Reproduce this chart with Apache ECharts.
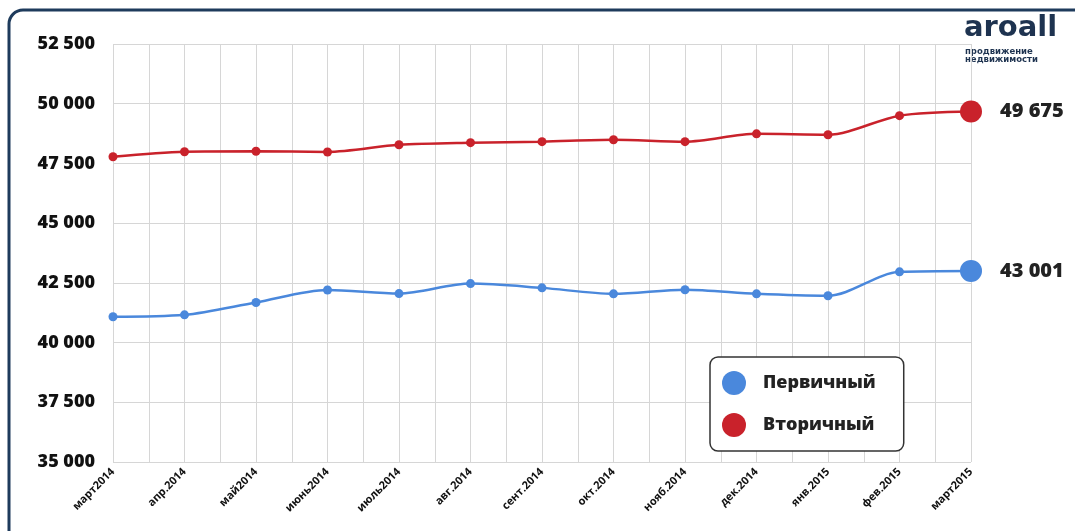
<!DOCTYPE html>
<html>
<head>
<meta charset="utf-8">
<script src="https://cdn.jsdelivr.net/npm/echarts@6/dist/echarts.min.js"></script>
<style>
html, body { margin: 0; padding: 0; background: #fff; }
#chart { width: 1075px; height: 531px; }
</style>
</head>
<body>
<div id="chart"></div>
<script>
var months = ["март2014", "апр.2014", "май2014", "июнь2014", "июль2014", "авг.2014", "сент.2014",
	"окт.2014", "нояб.2014", "дек.2014", "янв.2015", "фев.2015", "март2015"];
var primary = [41080, 41160, 41680, 42200, 42050, 42470, 42290, 42040, 42210, 42040, 41960, 42960, 43001];
var secondary = [47780, 47990, 48010, 47980, 48280, 48370, 48410, 48490, 48410, 48740, 48700, 49500, 49675];
var seriesNames = ["Первичный", "Вторичный"];
var seriesColors = ["#4a88dc", "#c9222b"];

function fmt(v) {
	return String(v).replace(/\B(?=(\d{3})+(?!\d))/g, " ");
}

function buildData(values) {
	return values.map(function(v, i) {
		if (i == values.length - 1) {
			return {
				value: [i, v],
				symbolSize: 22,
				label: {
					show: true,
					position: "right",
					distance: 18,
					formatter: function(p) { return fmt(p.value[1]); },
					fontFamily: "Open Sans",
					fontWeight: 800,
					fontSize: 20,
					color: "#222"
				}
			};
		}
		return { value: [i, v] };
	});
}

var chart = echarts.init(document.getElementById("chart"));
chart.setOption({
	animation: false,
	color: seriesColors,
	grid: { left: 113, right: 104, top: 44, bottom: 69 },
	graphic: [
		{
			type: "rect",
			shape: { x: 9, y: 10, width: 1100, height: 560, r: 14 },
			style: { fill: "none", stroke: "#1e3b5c", lineWidth: 3 },
			z: -1
		},
		{
			type: "text",
			left: 964, top: 14,
			style: { text: "arоall", font: "bold 29px 'DejaVu Sans'", fill: "#1e3350" }
		},
		{
			type: "text",
			left: 965, top: 47,
			style: { text: "продвижение\nнедвижимости", font: "bold 8.5px 'DejaVu Sans'", fill: "#1e3350", lineHeight: 8 }
		}
	],
	legend: {
		orient: "vertical",
		left: 710, top: 357,
		padding: [14, 28, 14, 12],
		itemGap: 18,
		itemWidth: 24, itemHeight: 24,
		icon: "circle",
		backgroundColor: "#fff",
		borderColor: "#333",
		borderWidth: 1.5,
		borderRadius: 8,
		textStyle: { fontFamily: "Open Sans", fontWeight: 800, fontSize: 18, color: "#222", padding: [0, 0, 0, 12] },
		data: seriesNames
	},
	xAxis: {
		type: "value",
		min: 0, max: months.length - 1,
		interval: 0.5,
		axisLine: { show: false },
		axisTick: { show: false },
		splitLine: { show: true, lineStyle: { color: "#d6d6d6", width: 1 } },
		axisLabel: {
			rotate: 45,
			margin: 8,
			fontFamily: "Open Sans",
			fontWeight: "bold",
			fontSize: 11,
			color: "#111",
			formatter: function(v) {
				return Number.isInteger(v) ? months[v] : "";
			}
		}
	},
	yAxis: {
		type: "value",
		min: 35000, max: 52500, interval: 2500,
		axisLine: { show: false },
		axisTick: { show: false },
		splitLine: { lineStyle: { color: "#d6d6d6", width: 1 } },
		axisLabel: {
			margin: 18,
			fontFamily: "Open Sans",
			fontWeight: 800,
			fontSize: 18,
			color: "#111",
			formatter: fmt
		}
	},
	series: [
		{
			name: seriesNames[0],
			type: "line",
			smooth: 0.3,
			symbol: "circle",
			symbolSize: 9,
			lineStyle: { width: 2.5 },
			data: buildData(primary)
		},
		{
			name: seriesNames[1],
			type: "line",
			smooth: 0.3,
			symbol: "circle",
			symbolSize: 9,
			lineStyle: { width: 2.5 },
			data: buildData(secondary)
		}
	]
});
</script>
</body>
</html>
